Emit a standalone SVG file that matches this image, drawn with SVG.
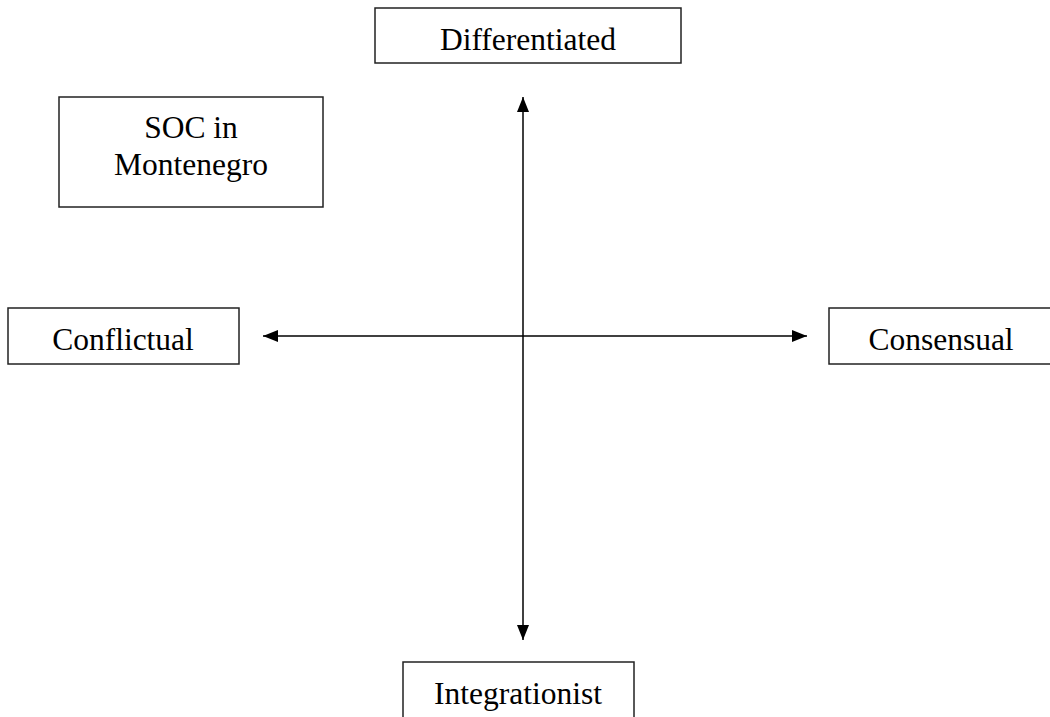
<svg xmlns="http://www.w3.org/2000/svg" width="1050" height="717" viewBox="0 0 1050 717">
<style>
.box{fill:#fff;stroke:#222;stroke-width:1.5}
.lbl{font-family:"Liberation Serif","Times New Roman",serif;font-size:31.5px;fill:#000;text-anchor:middle}
.ax{stroke:#000;stroke-width:1.5;fill:none}
</style>
<defs>
<marker id="ah" viewBox="0 0 15 12" refX="15" refY="6" markerWidth="15" markerHeight="12" markerUnits="userSpaceOnUse" orient="auto-start-reverse">
<path d="M0,0 L15,6 L0,12 Z" fill="#000"/>
</marker>
</defs>
<rect width="1050" height="717" fill="#fff"/>
<g id="connectors">
<line class="ax" x1="523" y1="97" x2="523" y2="640" marker-start="url(#ah)" marker-end="url(#ah)"/>
<line class="ax" x1="263" y1="336" x2="807" y2="336" marker-start="url(#ah)" marker-end="url(#ah)"/>
</g>
<g id="differentiated">
<rect class="box" x="375" y="8" width="306" height="55"/>
<text class="lbl" x="528" y="50">Differentiated</text>
</g>
<g id="soc">
<rect class="box" x="59" y="97" width="264" height="110"/>
<text class="lbl" x="191" y="138">SOC in</text>
<text class="lbl" x="191" y="175">Montenegro</text>
</g>
<g id="conflictual">
<rect class="box" x="8" y="308" width="231" height="56"/>
<text class="lbl" x="123" y="350">Conflictual</text>
</g>
<g id="consensual">
<rect class="box" x="829" y="308" width="230" height="56"/>
<text class="lbl" x="941" y="350">Consensual</text>
</g>
<g id="integrationist">
<rect class="box" x="403" y="662" width="231" height="70"/>
<text class="lbl" x="518" y="704">Integrationist</text>
</g>
</svg>
